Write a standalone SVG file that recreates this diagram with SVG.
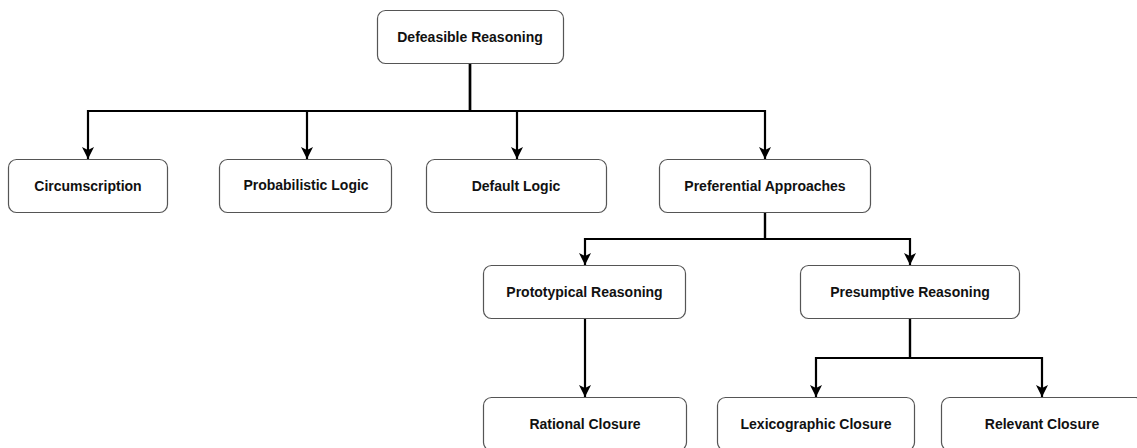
<svg xmlns="http://www.w3.org/2000/svg" width="1137" height="448" viewBox="0 0 1137 448">
<style>
.box{fill:#fff;stroke:#555;stroke-width:1.2}
.lbl{font-family:"Liberation Sans",Arial,sans-serif;font-weight:bold;font-size:14px;fill:#111;text-anchor:middle;dominant-baseline:central}
.edge{fill:none;stroke:#000;stroke-width:2.2;marker-end:url(#arr)}
</style>
<defs>
<marker id="arr" markerWidth="12" markerHeight="12" viewBox="0 0 12 12" refX="12" refY="6" orient="auto" markerUnits="userSpaceOnUse">
<path d="M0,0 L12,6 L0,12 L3,6 Z" fill="#000"/>
</marker>
</defs>
<g id="connectors">
<path class="edge" d="M470,63 V111 H88 V159"/>
<path class="edge" d="M470,63 V111 H307 V159"/>
<path class="edge" d="M470,63 V111 H517 V159"/>
<path class="edge" d="M470,63 V111 H765 V159"/>
<path class="edge" d="M765,213 V239 H585 V265"/>
<path class="edge" d="M765,213 V239 H910 V265"/>
<path class="edge" d="M585,318 V397"/>
<path class="edge" d="M910,318 V358 H816 V397"/>
<path class="edge" d="M910,318 V358 H1042 V397"/>
</g>
<g id="n-defeasible"><rect class="box" x="377.5" y="10.5" width="186" height="53" rx="8"/><text class="lbl" x="470" y="37">Defeasible Reasoning</text></g>
<g id="n-circ"><rect class="box" x="8.5" y="159.5" width="159" height="53" rx="8"/><text class="lbl" x="88" y="186">Circumscription</text></g>
<g id="n-prob"><rect class="box" x="219.5" y="159.5" width="172" height="53" rx="8"/><text class="lbl" x="306" y="185">Probabilistic Logic</text></g>
<g id="n-default"><rect class="box" x="426.5" y="159.5" width="180" height="53" rx="8"/><text class="lbl" x="516" y="186">Default Logic</text></g>
<g id="n-pref"><rect class="box" x="659.5" y="159.5" width="211" height="53" rx="8"/><text class="lbl" x="765" y="186">Preferential Approaches</text></g>
<g id="n-proto"><rect class="box" x="483.5" y="265.5" width="202" height="53" rx="8"/><text class="lbl" x="584.5" y="292">Prototypical Reasoning</text></g>
<g id="n-presum"><rect class="box" x="800.5" y="265.5" width="219" height="53" rx="8"/><text class="lbl" x="910" y="292">Presumptive Reasoning</text></g>
<g id="n-rational"><rect class="box" x="483.5" y="397.5" width="203" height="53" rx="8"/><text class="lbl" x="585" y="424">Rational Closure</text></g>
<g id="n-lexi"><rect class="box" x="717.5" y="397.5" width="197" height="53" rx="8"/><text class="lbl" x="816" y="424">Lexicographic Closure</text></g>
<g id="n-relevant"><rect class="box" x="941.5" y="397.5" width="202" height="53" rx="8"/><text class="lbl" x="1042" y="424">Relevant Closure</text></g>
</svg>
